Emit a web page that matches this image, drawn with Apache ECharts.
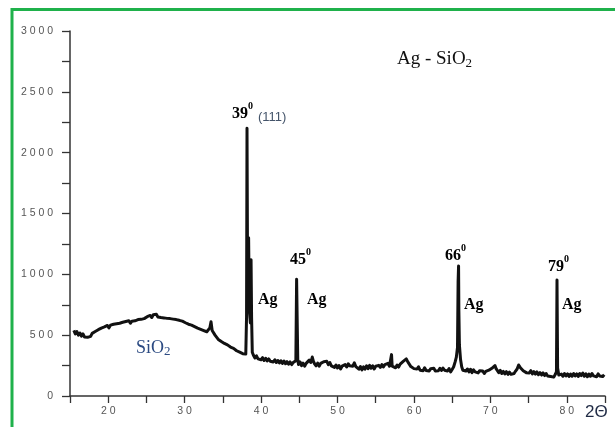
<!DOCTYPE html>
<html>
<head>
<meta charset="utf-8">
<script src="https://cdn.jsdelivr.net/npm/echarts@6/dist/echarts.min.js"></script>
<style>
html,body{margin:0;padding:0;background:#fff;}
#c{width:615px;height:427px;}
</style>
</head>
<body>
<div id="c"></div>
<script>
// 2θ (degrees)
const twoTheta = [
15.5,15.7,15.9,16.1,16.3,16.5,16.7,16.9,17.1,17.3,17.5,17.7,17.9,18.1,18.3,18.5,18.7,18.9,19.1,19.3,
19.5,19.7,19.9,20.1,20.3,20.5,20.7,20.9,21.1,21.3,21.5,21.7,21.9,22.1,22.3,22.5,22.7,22.9,23.1,23.3,
23.5,23.7,23.9,24.1,24.3,24.5,24.7,24.9,25.1,25.3,25.5,25.7,25.9,26.1,26.3,26.5,26.7,26.9,27.1,27.3,
27.5,27.7,27.9,28.1,28.3,28.5,28.7,28.9,29.1,29.3,29.5,29.7,29.9,30.1,30.3,30.5,30.7,30.9,31.1,31.3,
31.5,31.7,31.9,32.1,32.3,32.5,32.7,32.9,33.1,33.3,33.45,33.6,33.8,34.0,34.2,34.4,34.6,34.8,35.0,35.2,
35.4,35.6,35.8,36.0,36.2,36.4,36.6,36.8,37.0,37.2,37.4,37.6,37.8,38.0,38.1,38.16,38.24,38.37,38.47,38.6,
38.69,38.76,38.85,39.0,39.2,39.4,39.6,39.8,40.0,40.2,40.4,40.6,40.8,41.0,41.2,41.4,41.6,41.8,42.0,42.2,
42.4,42.6,42.8,43.0,43.2,43.4,43.6,43.8,44.0,44.2,44.4,44.55,44.65,44.72,44.8,44.9,45.1,45.3,45.5,45.7,
45.9,46.1,46.3,46.5,46.7,46.85,47.0,47.2,47.4,47.6,47.8,48.0,48.2,48.4,48.6,48.8,49.0,49.2,49.4,49.6,
49.8,50.0,50.2,50.4,50.6,50.8,51.0,51.2,51.4,51.6,51.8,52.0,52.2,52.4,52.6,52.8,53.0,53.2,53.4,53.6,
53.8,54.0,54.2,54.4,54.6,54.8,55.0,55.2,55.4,55.6,55.8,56.0,56.2,56.4,56.6,56.8,57.0,57.07,57.15,57.4,
57.6,57.8,58.0,58.2,58.4,58.6,58.8,59.0,59.2,59.4,59.6,59.8,60.0,60.2,60.4,60.6,60.8,61.0,61.2,61.4,
61.6,61.8,62.0,62.2,62.4,62.6,62.8,63.0,63.2,63.4,63.6,63.8,64.0,64.2,64.4,64.6,64.8,65.0,65.2,65.4,
65.55,65.7,65.78,65.84,65.88,65.95,66.1,66.25,66.4,66.6,66.8,67.0,67.2,67.4,67.6,67.8,68.0,68.2,68.4,68.6,
68.8,69.0,69.2,69.4,69.6,69.8,70.0,70.2,70.4,70.6,70.75,70.9,71.1,71.3,71.5,71.7,71.9,72.1,72.3,72.5,
72.7,72.9,73.1,73.3,73.5,73.7,73.9,74.1,74.3,74.5,74.7,74.9,75.1,75.3,75.5,75.7,75.9,76.1,76.3,76.5,
76.7,76.9,77.1,77.3,77.5,77.7,77.9,78.1,78.3,78.5,78.65,78.72,78.8,78.95,79.1,79.3,79.5,79.7,79.9,80.1,
80.3,80.5,80.7,80.9,81.1,81.3,81.5,81.7,81.9,82.1,82.3,82.5,82.7,82.9,83.1,83.3,83.5,83.7,83.9,84.1,
84.3,84.5,84.7,84.9
];
// intensity (counts)
const intensity = [
540,510,530,500,518,492,510,485,500,482,498,490,515,505,530,522,545,535,558,548,
568,555,580,560,582,572,590,575,594,580,598,588,606,592,612,600,618,598,615,605,
618,605,628,612,630,618,636,622,652,640,662,645,668,655,672,650,662,645,658,642,
656,638,652,636,648,632,645,628,638,622,632,615,620,602,608,590,598,582,590,570,
578,558,570,548,558,538,548,528,540,560,610,538,522,498,492,465,472,448,455,432,
448,420,428,402,412,392,395,372,380,360,368,348,355,345,650,2200,900,1300,700,600,
1120,640,360,335,312,330,305,320,298,315,292,310,288,305,285,300,280,298,275,292,
272,290,268,288,265,282,262,280,258,275,265,290,960,650,300,258,280,250,270,245,
268,260,295,275,320,285,265,248,270,245,268,255,282,270,285,258,275,248,260,235,
255,230,250,222,245,235,258,238,265,248,262,245,272,242,240,220,242,215,240,220,
248,225,252,228,248,222,245,230,252,235,258,238,258,248,268,245,258,340,245,252,
232,255,238,262,250,285,292,305,280,270,242,248,225,238,222,240,212,228,208,232,
210,222,205,225,210,228,205,220,208,228,210,230,212,228,205,225,198,218,240,282,
320,400,940,1068,700,420,300,240,212,222,205,222,198,220,192,215,198,210,190,208,
192,205,185,202,190,212,205,228,218,250,225,215,192,210,185,202,182,200,178,196,
178,190,185,205,222,255,235,230,208,215,192,205,190,208,182,200,180,198,175,192,
172,190,168,185,165,180,160,172,155,178,200,953,230,172,160,180,162,185,165,182,
160,180,162,185,165,182,160,185,168,188,162,182,158,180,162,185,165,180,158,182,
165,180,160,175
];
const xMin = 15, xMax = 85, xStep = 5;
const yMin = 0, yMax = 3000, yStep = 250;

const spaced = v => String(v).split('').join(' ');
const data = twoTheta.map((x, i) => [x, intensity[i]]);

const serif = '"Liberation Serif","DejaVu Serif",serif';
const sans = '"Liberation Sans",Arial,sans-serif';
function txt(left, top, text, size, opts) {
  return {
    type: 'text', left: left, top: top,
    style: Object.assign({text: text, fontSize: size, fontFamily: serif, fill: '#000'}, opts || {})
  };
}

const chart = echarts.init(document.getElementById('c'), null, {renderer: 'canvas'});
chart.setOption({
  animation: false,
  backgroundColor: '#fff',
  grid: {left: 70, right: 10, top: 31, bottom: 31, containLabel: false},
  xAxis: {
    type: 'value', min: xMin, max: xMax, interval: xStep,
    axisLine: {lineStyle: {color: '#333', width: 1.5}},
    axisTick: {show: true, length: 7, lineStyle: {color: '#333', width: 1.3}},
    axisLabel: {
      margin: 10, color: '#555', fontSize: 10.5, fontFamily: sans,
      formatter: v => (v % 10 === 0 ? spaced(v) : '')
    },
    splitLine: {show: false}
  },
  yAxis: {
    type: 'value', min: yMin, max: yMax, interval: yStep,
    axisLine: {show: true, lineStyle: {color: '#333', width: 1.5}},
    axisTick: {show: true, length: 8, lineStyle: {color: '#333', width: 1.3}},
    axisLabel: {
      margin: 17, color: '#555', fontSize: 10.5, fontFamily: sans,
      formatter: v => (v % 500 === 0 ? spaced(v) : '')
    },
    splitLine: {show: false}
  },
  series: [{
    type: 'line', data: data, symbol: 'none', smooth: false,
    lineStyle: {color: '#111', width: 3, join: 'round'}
  }],
  graphic: [
    {type: 'rect', shape: {x: 12, y: 9.5, width: 620, height: 440},
     style: {fill: 'none', stroke: '#1fb14b', lineWidth: 3}},
    {type: 'text', left: 397, top: 50, style: {
      text: '{a|Ag - SiO}{b|2}',
      rich: {a: {fontSize: 19, fontFamily: serif, fill: '#111'}, b: {fontSize: 13, fontFamily: serif, fill: '#111', padding: [8, 0, 0, 0]}}
    }},
    txt(232, 106, '39', 16, {fontWeight: 'bold'}),
    txt(248, 101, '0', 10, {fontWeight: 'bold'}),
    {type: 'text', left: 258, top: 111, style: {text: '(111)', fontSize: 13, fontFamily: sans, fill: '#44546a'}},
    txt(258, 292, 'Ag', 16, {fontWeight: 'bold'}),
    txt(290, 252, '45', 16, {fontWeight: 'bold'}),
    txt(306, 247, '0', 10, {fontWeight: 'bold'}),
    txt(307, 292, 'Ag', 16, {fontWeight: 'bold'}),
    txt(445, 248, '66', 16, {fontWeight: 'bold'}),
    txt(461, 243, '0', 10, {fontWeight: 'bold'}),
    txt(464, 297, 'Ag', 16, {fontWeight: 'bold'}),
    txt(548, 259, '79', 16, {fontWeight: 'bold'}),
    txt(564, 254, '0', 10, {fontWeight: 'bold'}),
    txt(562, 297, 'Ag', 16, {fontWeight: 'bold'}),
    {type: 'text', left: 136, top: 339, style: {
      text: '{a|SiO}{b|2}',
      rich: {a: {fontSize: 18, fontFamily: serif, fill: '#2b4a82'}, b: {fontSize: 13, fontFamily: serif, fill: '#2b4a82', padding: [8, 0, 0, 0]}}
    }},
    {type: 'text', left: 585, top: 404, style: {text: '2Θ', fontSize: 17, fontFamily: sans, fill: '#1f2a44'}}
  ]
});
</script>
</body>
</html>
